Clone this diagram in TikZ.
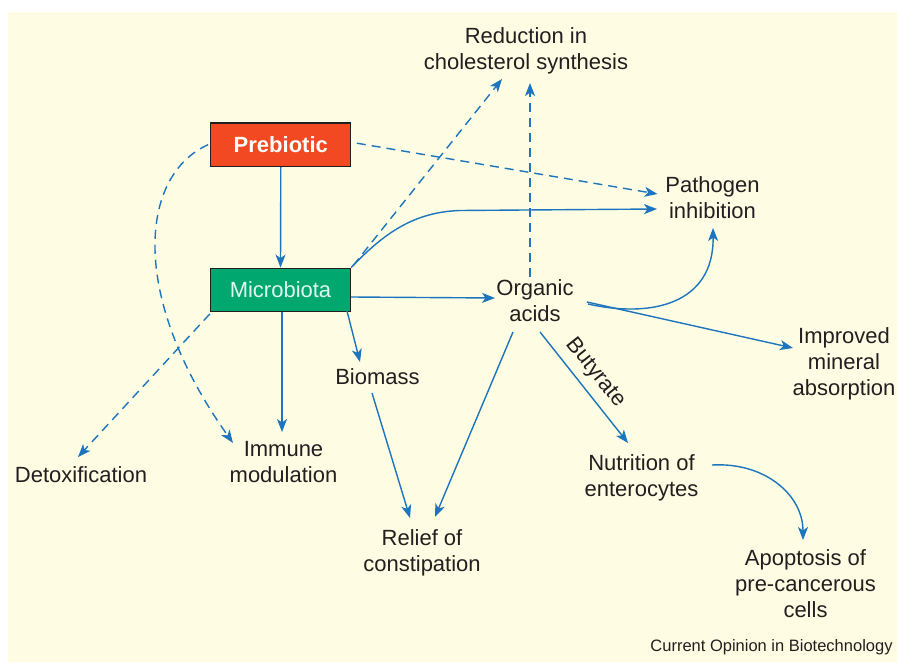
\documentclass[tikz,border=0pt]{standalone}
\usepackage{fontspec}
\setmainfont{Liberation Sans}
\usetikzlibrary{arrows.meta}
\definecolor{cream}{RGB}{254,252,227}
\definecolor{flow}{RGB}{28,117,190}
\definecolor{prered}{RGB}{242,73,34}
\definecolor{micgreen}{RGB}{0,168,112}
\definecolor{ink}{RGB}{35,31,32}
\definecolor{mint}{RGB}{225,247,238}

\begin{document}
\begin{tikzpicture}[x=1pt,y=-1pt,
  lbl/.style={font=\fontsize{22}{26}\selectfont, align=center, inner sep=0pt, text=ink},
  box/.style={draw=ink, line width=1.3pt, minimum width=140pt, minimum height=43.5pt,
              inner sep=0pt, font=\fontsize{22}{26}\selectfont},
  link/.style={draw=flow, line width=1.4pt, -{Stealth[length=13pt,width=10pt,inset=3.5pt]}},
  hint/.style={link, dash pattern=on 9pt off 6pt}]

% page and panel
\useasboundingbox (0,0) rectangle (897,663);
\fill[white] (0,0) rectangle (897,663);
\fill[cream] (8,12) rectangle (897,662);

% boxes
\node[box, fill=prered, text=white, font=\fontsize{22}{26}\selectfont\bfseries] (pre) at (280.8,144.7) {Prebiotic};
\node[box, fill=micgreen, text=mint] (mic) at (280.5,290) {Microbiota};

% outcome labels
\node[lbl] (chol)    at (526,50.5)  {Reduction in\\cholesterol synthesis};
\node[lbl] (patho)   at (712.5,198) {Pathogen\\inhibition};
\node[lbl] (acids)   at (535,301)   {Organic\\acids};
\node[lbl] (mineral) at (844,363.5) {Improved\\mineral\\absorption};
\node[lbl] (biomass) at (377.5,376.5) {Biomass};
\node[lbl] (detox)   at (81,475)    {Detoxification};
\node[lbl] (immune)  at (283.5,462.5) {Immune\\modulation};
\node[lbl] (relief)  at (422,552.5) {Relief of\\constipation};
\node[lbl] (nutri)   at (641.5,477.5) {Nutrition of\\enterocytes};
\node[lbl] (apopt)   at (805.5,583.5) {Apoptosis of\\pre-cancerous\\cells};
\node[inner sep=0pt, text=ink, font=\fontsize{16.5}{19}\selectfont] (credit) at (771.5,647) {Current Opinion in Biotechnology};

% connectors from the prebiotic
\draw[link] (pre.south) -- (mic.north);
\draw[hint] ([shift={(76,-1.5)}]pre.center) -- ([shift={(-55,-4)}]patho.center);
\draw[hint] ([shift={(-2,0)}]pre.west) .. controls (140,175) and (128,295) .. ([shift={(-50.5,-19.5)}]immune.center);

% connectors from the microbiota
\draw[hint] ([shift={(0,1.5)}]mic.south west) -- ([shift={(-3,-18)}]detox.center);
\draw[link] ([shift={(1.5,0)}]mic.south) -- ([shift={(-1.5,-30.5)}]immune.center);
\draw[link] ([shift={(66.5,21)}]mic.center) -- ([shift={(-17.5,-14.5)}]biomass.center);
\draw[link] ([shift={(0,7)}]mic.east) -- ([shift={(-40,-3)}]acids.center);
\draw[hint] ([shift={(2,-2)}]mic.north east) -- ([shift={(-24,28.5)}]chol.center);
\draw[link] (mic.north east) .. controls (385,232) and (415,212) .. (460,210.5)
            -- ([shift={(-55.5,11)}]patho.center);

% connectors from the organic acids
\draw[hint] ([shift={(-5,-24)}]acids.center) -- ([shift={(4,32.5)}]chol.center);
\draw[link] ([shift={(53,3)}]acids.center) .. controls (650,318) and (714,305)
            .. ([shift={(0.5,30)}]patho.center);
\draw[link] ([shift={(52,1)}]acids.center) -- ([shift={(-51,-15.5)}]mineral.center);
\draw[link] ([shift={(5,31)}]acids.center)
            -- node[pos=0.47, sloped, anchor=south, lbl, inner ysep=7.5pt] {Butyrate}
            ([shift={(-13.5,-34.5)}]nutri.center);
\draw[link] ([shift={(-22,31)}]acids.center) -- ([shift={(13,-35.5)}]relief.center);

% remaining effects
\draw[link] ([shift={(-5.5,16.5)}]biomass.center) -- ([shift={(-12,-34.5)}]relief.center);
\draw[link] ([shift={(70.5,-12.5)}]nutri.center) .. controls (765,462) and (803,495)
            .. ([shift={(-2.5,-43.5)}]apopt.center);
\end{tikzpicture}
\end{document}
